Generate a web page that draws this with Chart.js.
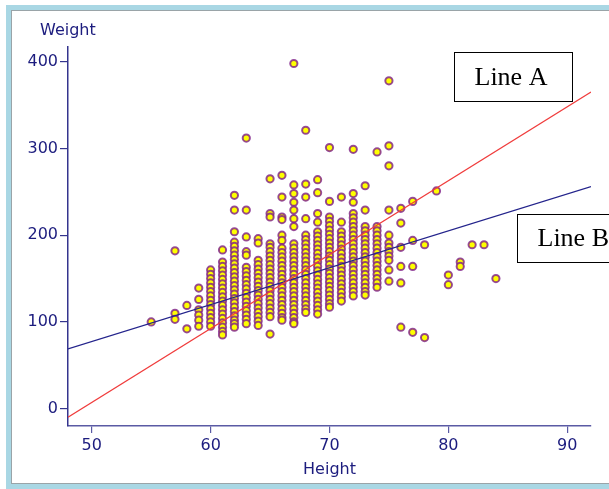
<!DOCTYPE html>
<html>
<head>
<meta charset="utf-8">
<script src="https://cdn.jsdelivr.net/npm/chart.js@4/dist/chart.umd.min.js"></script>
<style>
  html, body { margin: 0; padding: 0; background: #fff; overflow: hidden; width: 609px; height: 489px; }
  #frame {
    position: absolute; left: 6px; top: 5px; width: 680px; height: 474px;
    border: 5px solid #a9d7e4; box-shadow: inset 0 0 0 1px #9aa4a8; background: #fff;
  }
  #myChart { position: absolute; left: 0; top: 0; }
</style>
</head>
<body>
<div id="frame"></div>
<canvas id="myChart" width="640" height="489"></canvas>
<script>
// heights (inches) that have points, and the weights (lb) stacked at each height
const columnHeights = [55, 57, 58, 59, 60, 61, 62, 63, 64, 65, 66, 67, 68, 69, 70, 71, 72, 73, 74, 75, 76, 77, 78, 79, 80, 81, 82, 83, 84];
const columnWeights = [
    [100],
    [182, 110, 103],
    [119, 92],
    [139, 126, 114, 108, 102, 95],
    [160, 155, 150, 145, 140, 135, 130, 125, 120, 115, 110, 105, 100, 95],
    [183, 169, 164, 159, 154, 149, 144, 139, 134, 129, 124, 119, 114, 109, 104, 99, 94, 89, 85],
    [246, 229, 204, 192, 187, 182, 177, 172, 167, 162, 157, 152, 147, 142, 137, 132, 127, 122, 117, 112, 107, 102, 98, 94],
    [312, 229, 198, 181, 177, 163, 158, 153, 148, 143, 138, 133, 128, 123, 118, 113, 108, 103, 98],
    [196, 191, 171, 166, 161, 156, 151, 146, 141, 136, 131, 126, 121, 116, 111, 106, 101, 96],
    [265, 225, 221, 190, 186, 181, 176, 171, 166, 161, 156, 151, 146, 141, 136, 131, 126, 121, 116, 111, 106, 86],
    [269, 244, 221, 218, 200, 194, 185, 180, 175, 170, 165, 160, 155, 150, 145, 140, 135, 130, 125, 120, 115, 110, 105, 102],
    [398, 258, 248, 238, 229, 219, 210, 190, 185, 180, 175, 170, 165, 160, 155, 150, 145, 140, 135, 130, 125, 120, 115, 110, 105, 100, 98],
    [321, 259, 244, 219, 200, 195, 190, 185, 180, 175, 170, 165, 160, 155, 150, 145, 140, 135, 130, 125, 120, 115, 111],
    [264, 249, 225, 215, 204, 199, 194, 189, 184, 179, 174, 169, 164, 159, 154, 149, 144, 139, 134, 129, 124, 119, 114, 109],
    [301, 239, 221, 216, 211, 206, 201, 196, 191, 186, 181, 176, 171, 166, 161, 156, 151, 146, 141, 136, 131, 126, 121, 117],
    [244, 215, 204, 199, 194, 189, 184, 179, 174, 169, 164, 159, 154, 149, 144, 139, 134, 129, 124],
    [299, 248, 238, 225, 220, 215, 210, 205, 200, 195, 190, 185, 180, 175, 170, 165, 160, 155, 150, 145, 140, 135, 130],
    [257, 229, 210, 205, 200, 195, 190, 185, 180, 175, 170, 165, 160, 155, 150, 145, 140, 135, 131],
    [296, 210, 205, 200, 195, 190, 185, 180, 175, 170, 165, 160, 155, 150, 145, 140],
    [378, 303, 280, 229, 200, 191, 186, 181, 176, 171, 160, 147],
    [231, 214, 186, 164, 145, 94],
    [239, 194, 164, 88],
    [189, 82],
    [251],
    [154, 143],
    [169, 164],
    [189],
    [189],
    [150]
];

// the two straight lines, given by their end points
const lineX = [48, 92];
const lineAWeights = [-10, 365];
const lineBWeights = [69, 256];
const lineLabels = ['Line A', 'Line B'];

const xTicks = [50, 60, 70, 80, 90];
const yTicks = [0, 100, 200, 300, 400];

const navy = '#1c1c7e';
const axisColor = '#34348e';

function buildPoints() {
    const pts = [];
    columnHeights.forEach((h, i) => {
        for (const w of columnWeights[i]) pts.push({x: h, y: w});
    });
    return pts;
}

const labelsPlugin = {
    id: 'labelsPlugin',
    afterDraw(chart) {
        const c = chart.ctx;
        const area = chart.chartArea;
        const xs = chart.scales.x, ys = chart.scales.y;
        c.save();
        c.fillStyle = navy;
        c.font = '16px "DejaVu Sans"';
        c.textBaseline = 'alphabetic';
        c.textAlign = 'left';
        c.fillText('Weight', area.left - 28, area.top - 12);
        c.textAlign = 'center';
        c.fillText('Height', (area.left + area.right) / 2, 474);

        // label boxes, placed in data space
        const boxes = [
            {x0: 80.47, x1: 90.4, y0: 411.2, y1: 354.7},
            {x0: 85.78, x1: 95.7, y0: 224.4, y1: 169.1}
        ];
        c.font = '26px "Liberation Serif"';
        c.textAlign = 'left';
        c.textBaseline = 'middle';
        boxes.forEach((b, i) => {
            const l = Math.round(xs.getPixelForValue(b.x0)) + 0.5;
            const r = Math.round(xs.getPixelForValue(b.x1)) + 0.5;
            const t = Math.round(ys.getPixelForValue(b.y0)) + 0.5;
            const btm = Math.round(ys.getPixelForValue(b.y1)) + 0.5;
            c.fillStyle = '#fff';
            c.fillRect(l, t, r - l, btm - t);
            c.strokeStyle = '#000';
            c.lineWidth = 1;
            c.strokeRect(l, t, r - l, btm - t);
            c.fillStyle = '#000';
            c.fillText(lineLabels[i], l + 20, (t + btm) / 2 + 1);
        });
        c.restore();
    }
};

new Chart(document.getElementById('myChart'), {
    type: 'scatter',
    data: {
        datasets: [
            {
                label: lineLabels[0],
                data: lineX.map((x, i) => ({x: x, y: lineAWeights[i]})),
                showLine: true,
                borderColor: '#f03c3c',
                borderWidth: 1.2,
                pointRadius: 0,
                order: 0
            },
            {
                label: lineLabels[1],
                data: lineX.map((x, i) => ({x: x, y: lineBWeights[i]})),
                showLine: true,
                borderColor: '#24248c',
                borderWidth: 1.2,
                pointRadius: 0,
                order: 1
            },
            {
                label: 'Height vs Weight',
                data: buildPoints(),
                backgroundColor: '#ffff00',
                borderColor: 'rgba(125, 30, 135, 0.8)',
                borderWidth: 2,
                pointRadius: 3.6,
                order: 2
            }
        ]
    },
    options: {
        responsive: false,
        animation: false,
        devicePixelRatio: 1,
        layout: {padding: {left: 0, top: 47, right: 49, bottom: 0}},
        plugins: {legend: {display: false}, tooltip: {enabled: false}},
        scales: {
            x: {
                type: 'linear',
                min: 48,
                max: 92,
                afterFit: s => { s.height = 489 - 426; },
                afterBuildTicks: s => { s.ticks = xTicks.map(v => ({value: v})); },
                border: {display: true, color: '#5a5aa4', width: 1.5},
                grid: {drawOnChartArea: false, drawTicks: true, tickLength: 7, color: '#5a5aa4', lineWidth: 1.2},
                ticks: {color: navy, font: {family: 'DejaVu Sans', size: 16}, padding: 3, maxRotation: 0}
            },
            y: {
                type: 'linear',
                min: -20,
                max: 417,
                afterFit: s => { s.width = 68; },
                afterBuildTicks: s => { s.ticks = yTicks.map(v => ({value: v})); },
                border: {display: true, color: axisColor, width: 1.5},
                grid: {drawOnChartArea: false, drawTicks: true, tickLength: 8, color: axisColor, lineWidth: 1.2},
                ticks: {color: navy, font: {family: 'DejaVu Sans', size: 16}, padding: 2}
            }
        }
    },
    plugins: [labelsPlugin]
});
</script>
</body>
</html>
